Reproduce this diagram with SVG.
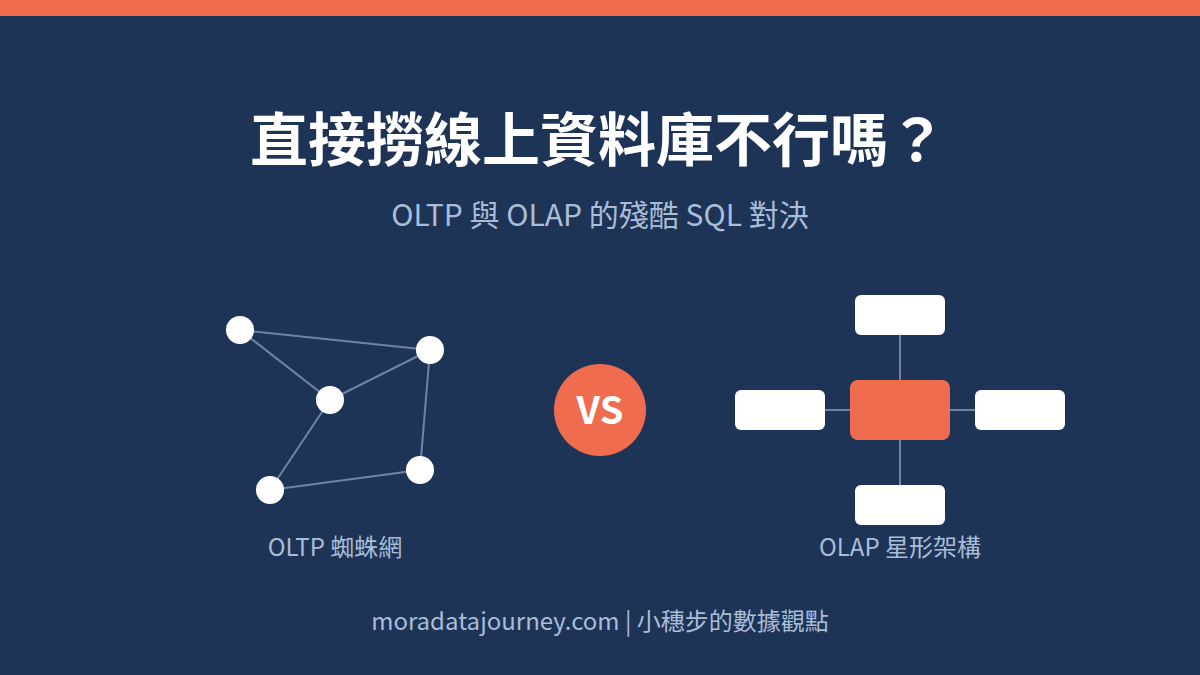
<svg xmlns="http://www.w3.org/2000/svg" width="1200" height="675" viewBox="0 0 1200 675">
<style>
.t{font-family:"Noto Sans CJK TC","Noto Sans",sans-serif;text-anchor:middle}
.title{font-size:58px;font-weight:700;fill:#ffffff}
.sub{font-size:30px;fill:#a9bdd8}
.lbl{font-size:24px;fill:#a9bdd8}
.conn line{stroke:#6e84a2;stroke-width:2}
.dot{fill:#ffffff}
.box{fill:#ffffff}
.hub{fill:#ef6c4f}
</style>
<rect width="1200" height="675" fill="#1e3456"/>
<rect width="1200" height="16" fill="#ef6c4f"/>
<text class="t title" x="598" y="161">直接撈線上資料庫不行嗎？</text>
<text class="t sub" x="600" y="226">OLTP 與 OLAP 的殘酷 SQL 對決</text>
<g class="conn">
<line x1="240" y1="330" x2="430" y2="350"/>
<line x1="240" y1="330" x2="330" y2="400"/>
<line x1="330" y1="400" x2="430" y2="350"/>
<line x1="430" y1="350" x2="420" y2="470"/>
<line x1="330" y1="400" x2="270" y2="490"/>
<line x1="270" y1="490" x2="420" y2="470"/>
<line x1="900" y1="335" x2="900" y2="485"/>
<line x1="825" y1="410" x2="975" y2="410"/>
</g>
<g id="n1"><circle class="dot" cx="240" cy="330" r="14"/></g>
<g id="n2"><circle class="dot" cx="430" cy="350" r="14"/></g>
<g id="n3"><circle class="dot" cx="330" cy="400" r="14"/></g>
<g id="n4"><circle class="dot" cx="270" cy="490" r="14"/></g>
<g id="n5"><circle class="dot" cx="420" cy="470" r="14"/></g>
<g id="vs"><circle class="hub" cx="600" cy="410" r="46"/><text class="t" x="600" y="424" font-size="38" font-weight="700" fill="#ffffff">VS</text></g>
<g id="s-top"><rect class="box" x="855" y="295" width="90" height="40" rx="6"/></g>
<g id="s-left"><rect class="box" x="735" y="390" width="90" height="40" rx="6"/></g>
<g id="s-right"><rect class="box" x="975" y="390" width="90" height="40" rx="6"/></g>
<g id="s-bottom"><rect class="box" x="855" y="485" width="90" height="40" rx="6"/></g>
<g id="s-hub"><rect class="hub" x="850" y="380" width="100" height="60" rx="8"/></g>
<text class="t lbl" x="335" y="556">OLTP 蜘蛛網</text>
<text class="t lbl" x="900" y="556">OLAP 星形架構</text>
<text class="t lbl" x="600" y="630">moradatajourney.com | 小穗步的數據觀點</text>
</svg>
